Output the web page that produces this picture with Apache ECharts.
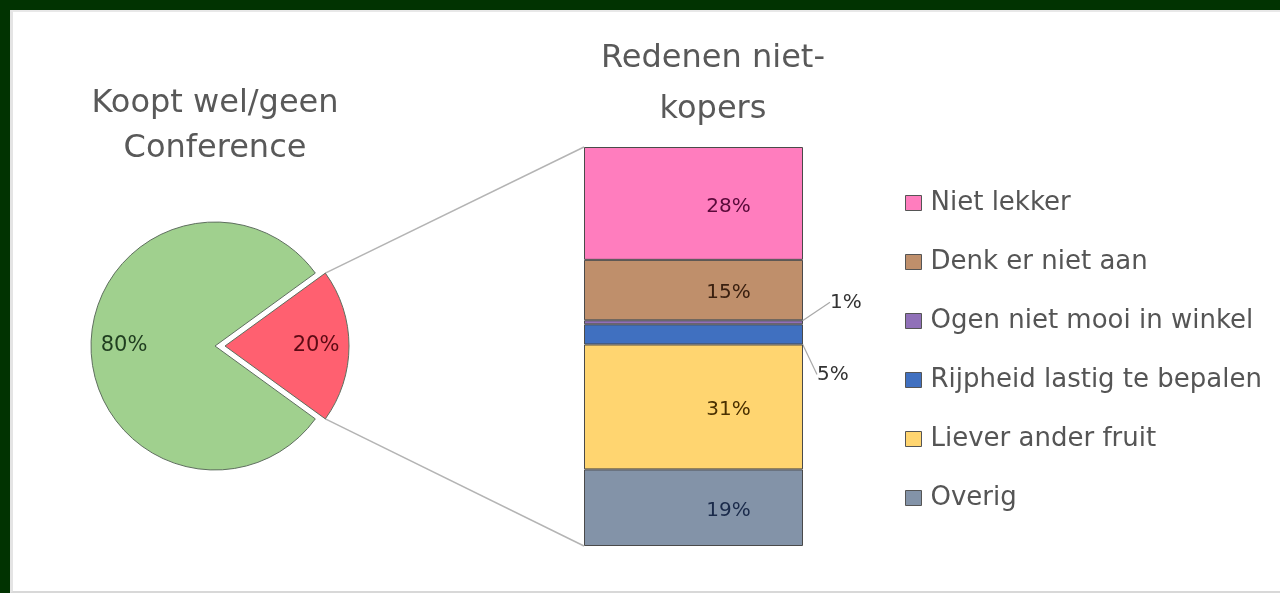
<!DOCTYPE html>
<html>
<head>
<meta charset="utf-8">
<script src="https://cdn.jsdelivr.net/npm/echarts@6/dist/echarts.min.js"></script>
<style>
  html, body { margin:0; padding:0; width:1280px; height:593px; background:#013301; overflow:hidden; }
  #panel { position:absolute; left:10px; top:10px; width:1270px; height:583px; background:#fff;
           border-left:3px solid #e4e4e4; border-top:2px solid #e8e8e8; border-bottom:2px solid #d8d8d8; box-sizing:border-box; }
  #chart { position:absolute; left:0; top:0; width:1280px; height:593px; }
</style>
</head>
<body>
<div id="panel"></div>
<div id="chart"></div>
<script>
// ---- data ----
const pieNames = ['Koopt wel', 'Koopt geen'];
const pieValues = [80, 20];
const pieColors = ['#a0d08e', '#ff6070'];
const pieLabelColors = ['#1f3d1f', '#5c0a14'];

// stack: bottom to top
const barNames = ['Overig', 'Liever ander fruit', 'Rijpheid lastig te bepalen', 'Ogen niet mooi in winkel', 'Denk er niet aan', 'Niet lekker'];
const barValues = [19, 31, 5, 1, 15, 28];
const barColors = ['#8393a8', '#ffd570', '#4070c0', '#9070b8', '#bf8f6b', '#ff7dbe'];
const barLabelColors = ['#1a2a4a', '#4a3000', '#333333', '#333333', '#3a2010', '#5a0a3a'];
const legendOrder = ['Niet lekker', 'Denk er niet aan', 'Ogen niet mooi in winkel', 'Rijpheid lastig te bepalen', 'Liever ander fruit', 'Overig'];
const categories = ['Redenen'];

const FONT = 'DejaVu Sans';
const chart = echarts.init(document.getElementById('chart'), null, { renderer: 'canvas' });

const pieCenter = [215, 346];
const pieR = 124;

function pieData(transparent) {
  return pieValues.map((v, i) => ({
    name: pieNames[i],
    value: v,
    selected: i === 1,
    itemStyle: transparent ? { color: 'transparent', borderWidth: 0 } : { color: pieColors[i] },
    label: { color: pieLabelColors[i] }
  }));
}

const outsideLabel = {
  3: { dx: 22, dy: -20 },
  2: { dx: 9, dy: 40 }
};

const barSeries = barNames.map((name, i) => {
  const s = {
    name: name,
    type: 'bar',
    stack: 'total',
    barWidth: '100%',
    data: [barValues[i]],
    itemStyle: { color: barColors[i], borderColor: '#4a4a4a', borderWidth: 1 },
    label: {
      show: i !== 2 && i !== 3,
      position: 'inside',
      offset: [35, 3],
      formatter: '{c}%',
      fontFamily: FONT,
      fontSize: 20,
      color: barLabelColors[i]
    },
    emphasis: { disabled: true }
  };
  if (outsideLabel[i]) {
    s.label = {
      show: true, position: 'right', formatter: '{c}%',
      fontFamily: FONT, fontSize: 20, color: '#333'
    };
    s.labelLayout = outsideLabel[i];
    s.labelLine = { show: true, lineStyle: { color: '#a8a8a8', width: 1.2 } };
  }
  return s;
});

const option = {
  animation: false,
  title: [
    {
      text: 'Koopt wel/geen\nConference',
      left: 210, top: 76, textAlign: 'center',
      textStyle: { fontFamily: FONT, fontSize: 32, fontWeight: 'normal', color: '#595959', lineHeight: 45 }
    },
    {
      text: 'Redenen niet-\nkopers',
      left: 708, top: 28, textAlign: 'center',
      textStyle: { fontFamily: FONT, fontSize: 32, fontWeight: 'normal', color: '#595959', lineHeight: 51 }
    }
  ],
  legend: {
    data: legendOrder,
    orient: 'vertical',
    left: 900, top: 185,
    icon: 'rect',
    itemWidth: 16, itemHeight: 15,
    itemGap: 33,
    itemStyle: { borderColor: '#555', borderWidth: 1 },
    textStyle: { fontFamily: FONT, fontSize: 26, color: '#555', padding: [0, 0, 0, 4] },
    selectedMode: false
  },
  grid: { left: 584, top: 147, width: 219, height: 399 },
  xAxis: { type: 'category', data: categories, show: false },
  yAxis: { type: 'value', min: 0, max: 99, show: false },
  series: [
    {
      type: 'pie',
      center: pieCenter,
      radius: pieR,
      startAngle: -36,
      selectedMode: 'single',
      selectedOffset: 10,
      data: pieData(false),
      label: { show: false },
      itemStyle: { borderColor: '#5e6e5e', borderWidth: 1 },
      emphasis: { disabled: true },
      silent: true
    },
    {
      type: 'pie',
      center: pieCenter,
      radius: [52, pieR],
      startAngle: -36,
      selectedMode: 'single',
      selectedOffset: 10,
      data: pieData(true),
      label: { show: true, position: 'inside', formatter: '{c}%', fontFamily: FONT, fontSize: 21 },
      emphasis: { disabled: true },
      silent: true,
      z: 3
    }
  ].concat(barSeries)
};

chart.setOption(option);

// connector lines from exploded slice to the stacked bar, computed from layouts
(function () {
  const model = chart.getModel();
  const pieModel = model.getSeriesByIndex(0);
  const lay = pieModel.getData().getItemLayout(1);
  const off = pieModel.get('selectedOffset');
  const mid = (lay.startAngle + lay.endAngle) / 2;
  const ox = off * Math.cos(mid), oy = off * Math.sin(mid);
  const pts = [lay.startAngle, lay.endAngle].map(a => [lay.cx + lay.r * Math.cos(a) + ox, lay.cy + lay.r * Math.sin(a) + oy]);
  pts.sort((a, b) => a[1] - b[1]);
  const topBar = model.getSeriesByIndex(2 + barNames.length - 1).getData().getItemLayout(0);
  const botBar = model.getSeriesByIndex(2).getData().getItemLayout(0);
  const topY = Math.min(topBar.y, topBar.y + topBar.height);
  const botY = Math.max(botBar.y, botBar.y + botBar.height);
  const leftX = Math.min(topBar.x, topBar.x + topBar.width);
  chart.setOption({
    graphic: [
      { type: 'line', shape: { x1: pts[0][0], y1: pts[0][1], x2: leftX, y2: topY }, style: { stroke: '#b4b4b4', lineWidth: 1.5 }, z: 0 },
      { type: 'line', shape: { x1: pts[1][0], y1: pts[1][1], x2: leftX, y2: botY }, style: { stroke: '#b4b4b4', lineWidth: 1.5 }, z: 0 }
    ]
  });
})();
</script>
</body>
</html>
